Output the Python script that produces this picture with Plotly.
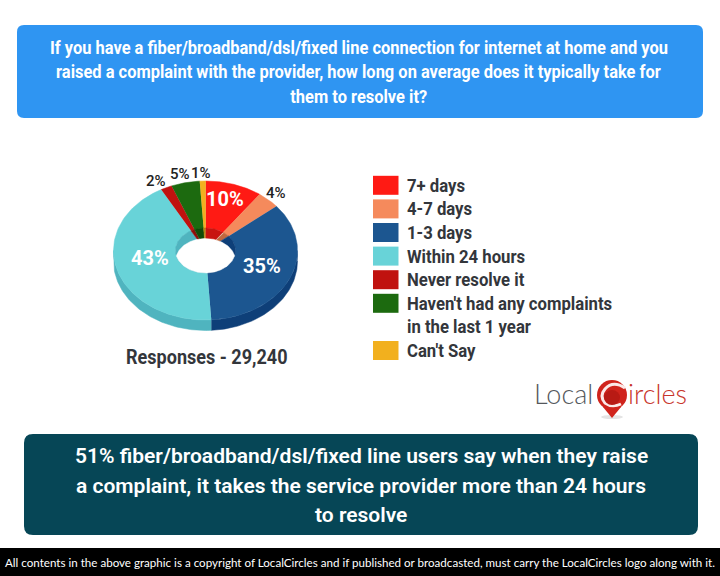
import numpy as np
import plotly.graph_objects as go

categories = ["7+ days", "4-7 days", "1-3 days", "Within 24 hours", "Never resolve it",
              "Haven't had any complaints<br>in the last 1 year", "Can't Say"]
values = [10, 4, 35, 43, 2, 5, 1]
top_colors = ["#ff1a14", "#f58a5c", "#1c5690", "#68d3d8", "#c0120f", "#1c6a0f", "#f2b01e"]
wall_colors = ["#c81410", "#c0683f", "#0e3f78", "#4fb4bf", "#8f0d0a", "#114a08", "#b8860f"]
title_lines = "If you have a fiber/broadband/dsl/fixed line connection for internet at home and you<br>raised a complaint with the provider, how long on average does it typically take for<br>them to resolve it?"
finding = "51% fiber/broadband/dsl/fixed line users say when they raise<br>a complaint, it takes the service provider more than 24 hours<br>to resolve"
footer = "All contents in the above graphic is a copyright of LocalCircles and if published or broadcasted, must carry the LocalCircles logo along with it."
responses = "Responses - 29,240"

W, H = 720, 576
CX, CY, RX, RY = 205.5, 250.5, 92, 69.5
IRX, IRY, DEPTH = 30, 22.5, 10.5
FONT = "Roboto"
DARK = "#33363b"

fig = go.Figure()

def ell(theta, rx, ry, dy=0.0):
    t = np.radians(theta)
    return CX + rx * np.sin(t), CY + dy - ry * np.cos(t)

def poly(x, y, color):
    fig.add_trace(go.Scatter(x=list(x), y=list(y), mode="lines", fill="toself", fillcolor=color,
                             line=dict(color=color, width=0.5), hoverinfo="skip", showlegend=False))

edges = np.concatenate([[0], np.cumsum(values)]) * 3.6

# outer front wall
for i in range(len(values)):
    a, b = max(edges[i], 90), min(edges[i + 1], 270)
    if b > a:
        th = np.linspace(a, b, 80)
        x1, y1 = ell(th, RX, RY)
        x2, y2 = ell(th[::-1], RX, RY, DEPTH)
        poly(np.r_[x1, x2], np.r_[y1, y2], wall_colors[i])

# top face
for i in range(len(values)):
    th = np.linspace(edges[i], edges[i + 1], 100)
    x1, y1 = ell(th, RX, RY)
    x2, y2 = ell(th[::-1], IRX, IRY)
    poly(np.r_[x1, x2], np.r_[y1, y2], top_colors[i])

# inner wall seen through the hole
for i in range(len(values)):
    th = np.linspace(edges[i], edges[i + 1], 60)
    x1, y1 = ell(th, IRX, IRY)
    poly(np.r_[CX, x1], np.r_[CY, y1], wall_colors[i])

# white opening
s = np.linspace(-1, 1, 200)
half_s = IRY * np.sqrt(1 - s ** 2)
up, lo = CY + DEPTH - half_s, CY + half_s
keep = up <= lo
xs = CX + IRX * s[keep]
poly(np.r_[xs, xs[::-1]], np.r_[up[keep], lo[keep][::-1]], "#ffffff")

# legend swatches
rows = [0, 1, 2, 3, 4, 5, 7]
ROW0, STEP = 185.3, 23.6
for i, r in enumerate(rows):
    y = ROW0 + r * STEP
    fig.add_shape(type="rect", x0=373, x1=398.5, y0=y - 9.5, y1=y + 9.5, fillcolor=top_colors[i],
                  line_width=0, layer="below")

narrow_sizes = set()

def text(x, y, s, size, color=DARK, weight=700, anchor="left", family=FONT, narrow=False):
    fig.add_annotation(x=x, y=y, text=s, showarrow=False, xanchor=anchor, yanchor="middle",
                       font=dict(family=family, size=size, color=color, weight=weight), align=anchor)
    if narrow:
        narrow_sizes.add(size)

for i, r in enumerate(rows):
    for k, ln in enumerate(categories[i].split("<br>")):
        text(404.5, ROW0 + (r + k) * STEP, ln, 19, narrow=True)

# panels
def rrect(x0, y0, x1, y1, r, color):
    p = (f"M{x0+r},{y0} L{x1-r},{y0} Q{x1},{y0} {x1},{y0+r} L{x1},{y1-r} Q{x1},{y1} {x1-r},{y1} "
         f"L{x0+r},{y1} Q{x0},{y1} {x0},{y1-r} L{x0},{y0+r} Q{x0},{y0} {x0+r},{y0} Z")
    fig.add_shape(type="path", path=p, fillcolor=color, line_width=0, layer="below")

rrect(17, 25, 703, 118, 7, "#2f95f2")
rrect(24, 434, 698, 535, 9, "#064656")
fig.add_shape(type="rect", x0=0, x1=720, y0=548, y1=576, fillcolor="#000000", line_width=0, layer="below")

for k, ln in enumerate(title_lines.split("<br>")):
    text(358.5, 47.5 + k * 24.8, ln, 18.7, color="#ffffff", anchor="center", narrow=True)
for k, ln in enumerate(finding.split("<br>")):
    text(361, 456 + k * 29.5, ln, 21, color="#ffffff", weight=600, anchor="center")
text(360, 562, footer, 11.6, color="#ffffff", weight=400, anchor="center", family="Lato")
text(207, 357, responses, 20.5, anchor="center", narrow=True)

# slice labels
labels = [f"{v}%" for v in values]
label_pos = [(225, 199), (276, 193), (262, 266), (150, 258), (156, 181), (180, 174), (201, 173)]
for i, (lab, (px, py)) in enumerate(zip(labels, label_pos)):
    if values[i] >= 10:
        text(px, py, lab, 20, color="#ffffff", anchor="center")
    else:
        text(px, py, lab, 15, color="#222222", weight=500, anchor="center")

# logo
text(532, 393, "Local", 27, color="#55585c", weight=300, family="Lato")
text(626, 393, "ircles", 27, color="#c8352b", weight=300, family="Lato")
fig.add_shape(type="circle", x0=601, x1=623, y0=415, y1=419, fillcolor="#e4e4e4", line_width=0)
fig.add_shape(type="path", path="M603,407 L612,418 L621,407 Z", fillcolor="#d0241c", line_width=0)
fig.add_shape(type="circle", x0=597, x1=627, y0=380, y1=410, fillcolor="#d0241c", line_width=0)
fig.add_shape(type="path", path="M625,388 Q613,380 605,389 Q599,396 605,403 Q612,408 621,404",
              fillcolor="rgba(0,0,0,0)", line=dict(color="#fbe9e7", width=3))
fig.add_shape(type="circle", x0=604, x1=620, y0=390, y1=405, fillcolor="#b81a14", line_width=0)

fig.update_layout(
    width=W, height=H, margin=dict(l=0, r=0, t=0, b=0), paper_bgcolor="#ffffff", plot_bgcolor="#ffffff",
    showlegend=False,
    xaxis=dict(range=[0, W], visible=False, fixedrange=True),
    yaxis=dict(range=[H, 0], visible=False, fixedrange=True),
)

sizes_js = "[" + ",".join(str(v) for v in sorted(narrow_sizes)) + "]"
post = """
document.body.style.margin='0';
document.documentElement.style.overflow='hidden';
function squeeze(){
  var sizes=%s;
  document.querySelectorAll('text.annotation-text').forEach(function(t){
    if(t.dataset.sq) return;
    var fs=parseFloat(t.style.fontSize);
    if(sizes.indexOf(fs)<0) return;
    var b=t.getBBox();
    var anchorStart=(t.getAttribute('text-anchor')||t.style.textAnchor)==='start';
    var ox=anchorStart?b.x:b.x+b.width/2;
    t.setAttribute('transform','translate('+ox+',0) scale(0.88,1) translate('+(-ox)+',0)');
    t.dataset.sq='1';
  });
}
squeeze();
setTimeout(squeeze,30);
""" % sizes_js
fig.write_html("out.html", config=dict(displayModeBar=False), post_script=post)
